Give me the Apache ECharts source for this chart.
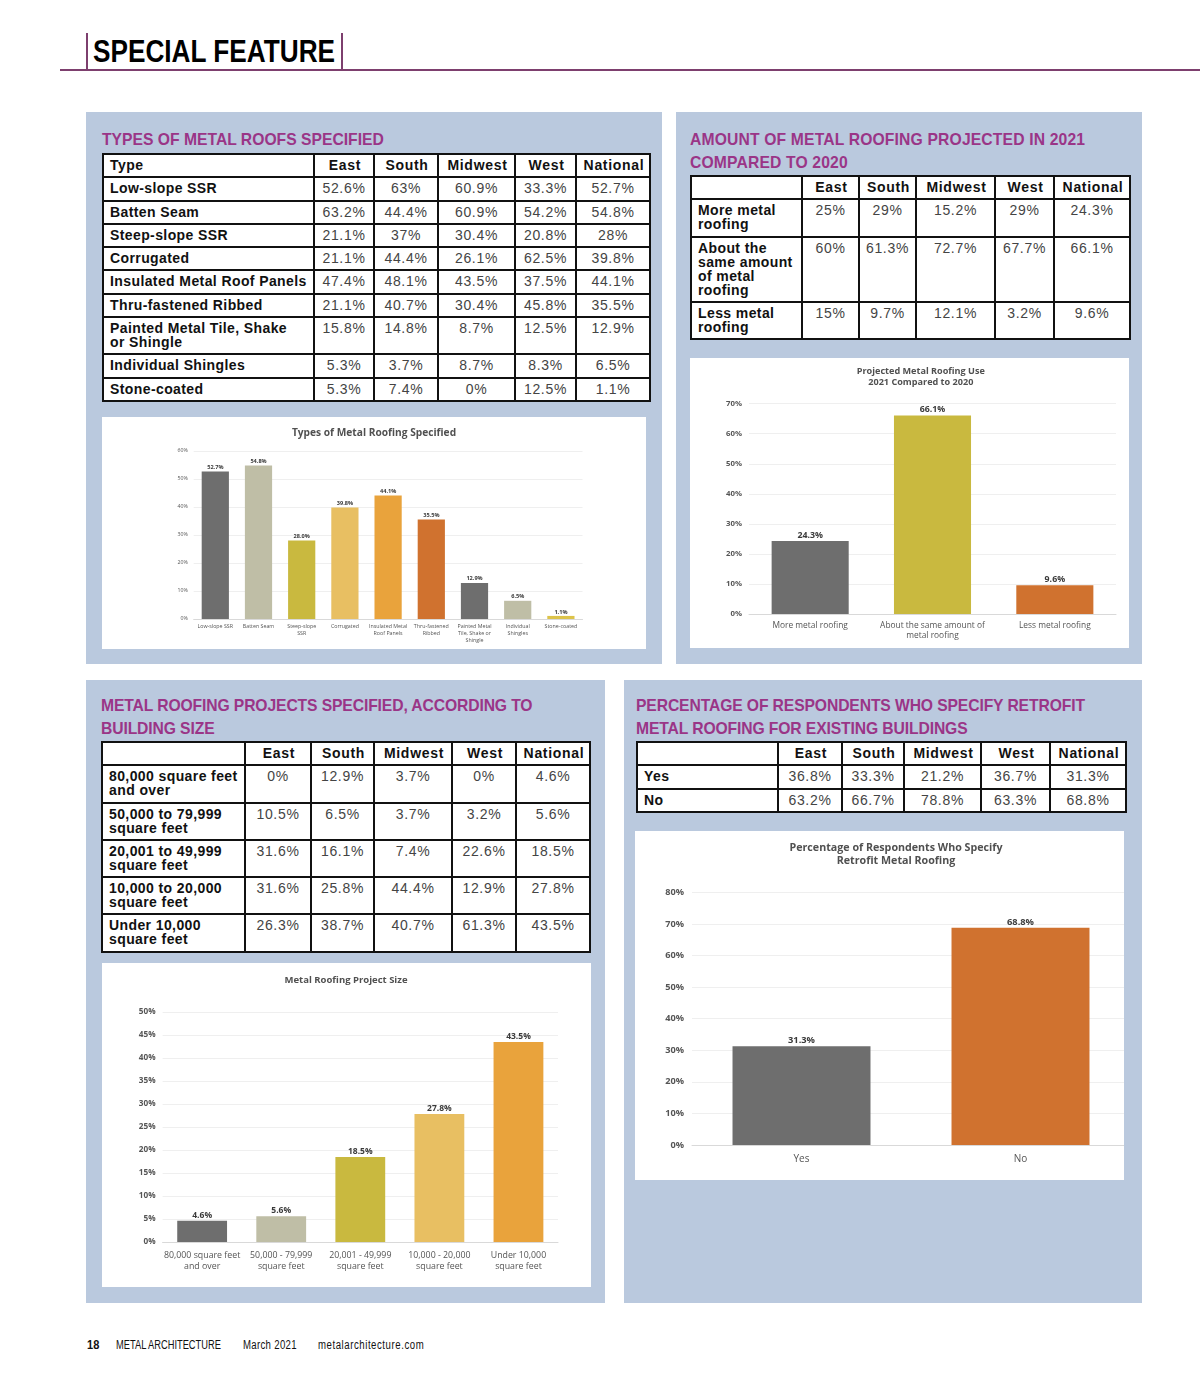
<!DOCTYPE html>
<html>
<head>
<meta charset="utf-8">
<script src="https://cdn.jsdelivr.net/npm/echarts@6/dist/echarts.min.js"></script>
<style>
  html, body { margin:0; padding:0; }
  body { width:1200px; height:1388px; position:relative; background:#fff; overflow:hidden;
         font-family:"Liberation Sans", Arial, Helvetica, sans-serif; }
  .abs { position:absolute; }
  .panel { position:absolute; background:#bac9de; }
  .ptitle { position:absolute; color:#9a3587; font-weight:bold; font-size:15.7px; line-height:23px;
            letter-spacing:0px; white-space:pre; font-family:"Liberation Sans", Arial, sans-serif; }
  .whitebox { position:absolute; background:#fff; overflow:hidden; }
  table.dt { position:absolute; border-collapse:collapse; table-layout:fixed; background:#fff; }
  table.dt th, table.dt td { border:2px solid #111; padding:3px 4px 4.3px 6px; line-height:14px; font-size:14px;
            vertical-align:top; overflow:visible; white-space:pre; }
  table.dt th { font-weight:bold; letter-spacing:0.7px; text-align:center; color:#111; }
  table.dt th.first { text-align:left; letter-spacing:0.5px; }
  table.dt td.lab { font-weight:bold; letter-spacing:0.4px; text-align:left; color:#111; }
  table.dt td.num { text-align:center; letter-spacing:0.7px; color:#444; padding-left:2px; padding-right:2px; }
  .cond { position:absolute; white-space:pre; transform-origin:0 50%; font-family:"Liberation Sans", Arial, sans-serif; color:#111; }
</style>
</head>
<body>

<!-- header -->
<div class="abs" style="left:60px;top:69px;width:1140px;height:2px;background:#7d3f6e"></div>
<div class="abs" style="left:86px;top:33px;width:2px;height:37px;background:#7d3f6e"></div>
<div class="abs" style="left:341px;top:33px;width:2px;height:37px;background:#7d3f6e"></div>
<div class="cond" style="left:93px;top:33px;font-size:31px;line-height:38px;font-weight:bold;color:#000;transform:scaleX(0.845)">SPECIAL FEATURE</div>

<!-- panels -->
<div class="panel" style="left:86px;top:112px;width:576px;height:552px"></div>
<div class="panel" style="left:676px;top:112px;width:466px;height:552px"></div>
<div class="panel" style="left:86px;top:680px;width:519px;height:623px"></div>
<div class="panel" style="left:624px;top:680px;width:518px;height:623px"></div>

<div class="ptitle" style="left:102px;top:128px">TYPES OF METAL ROOFS SPECIFIED</div>
<div class="ptitle" style="left:690px;top:128px;letter-spacing:0.15px">AMOUNT OF METAL ROOFING PROJECTED IN 2021
COMPARED TO 2020</div>
<div class="ptitle" style="left:101px;top:694px;letter-spacing:-0.12px">METAL ROOFING PROJECTS SPECIFIED, ACCORDING TO
BUILDING SIZE</div>
<div class="ptitle" style="left:636px;top:694px;letter-spacing:-0.12px">PERCENTAGE OF RESPONDENTS WHO SPECIFY RETROFIT
METAL ROOFING FOR EXISTING BUILDINGS</div>

<!-- chart boxes -->
<div class="whitebox" style="left:102px;top:417px;width:544px;height:232px"><div id="c1" style="width:544px;height:232px"></div></div>
<div class="whitebox" style="left:690px;top:358px;width:439px;height:290px"><div id="c2" style="width:439px;height:290px"></div></div>
<div class="whitebox" style="left:102px;top:963px;width:489px;height:324px"><div id="c3" style="width:489px;height:324px"></div></div>
<div class="whitebox" style="left:635px;top:831px;width:489px;height:349px"><div id="c4" style="width:495px;height:349px"></div></div>

<!-- footer -->
<div class="cond" style="left:87px;top:1337px;font-size:13px;line-height:16px;font-weight:bold;transform:scaleX(0.85)">18</div>
<div class="cond" style="left:116px;top:1337px;font-size:12px;line-height:16px;transform:scaleX(0.775)">METAL ARCHITECTURE</div>
<div class="cond" style="left:243px;top:1337px;font-size:12px;line-height:16px;letter-spacing:0.4px;transform:scaleX(0.8)">March 2021</div>
<div class="cond" style="left:318px;top:1337px;font-size:12px;line-height:16px;letter-spacing:0.7px;transform:scaleX(0.8)">metalarchitecture.com</div>

<script>
// ---------------- DATA ----------------
const regions = ['East', 'South', 'Midwest', 'West', 'National'];

// Table 1: Types of metal roofs specified
const roofTypeLabels = ['Low-slope SSR', 'Batten Seam', 'Steep-slope SSR', 'Corrugated',
  'Insulated Metal Roof Panels', 'Thru-fastened Ribbed', 'Painted Metal Tile, Shake\nor Shingle',
  'Individual Shingles', 'Stone-coated'];
const roofTypeEast     = [52.6, 63.2, 21.1, 21.1, 47.4, 21.1, 15.8, 5.3, 5.3];
const roofTypeSouth    = [63, 44.4, 37, 44.4, 48.1, 40.7, 14.8, 3.7, 7.4];
const roofTypeMidwest  = [60.9, 60.9, 30.4, 26.1, 43.5, 30.4, 8.7, 8.7, 0];
const roofTypeWest     = [33.3, 54.2, 20.8, 62.5, 37.5, 45.8, 12.5, 8.3, 12.5];
const roofTypeNational = [52.7, 54.8, 28, 39.8, 44.1, 35.5, 12.9, 6.5, 1.1];
const roofTypeChartCategories = ['Low-slope SSR', 'Batten Seam', 'Steep-slope\nSSR', 'Corrugated',
  'Insulated Metal\nRoof Panels', 'Thru-fastened\nRibbed', 'Painted Metal\nTile, Shake or\nShingle',
  'Individual\nShingles', 'Stone-coated'];

// Table 2: Amount of metal roofing projected in 2021 compared to 2020
const projLabels = ['More metal\nroofing', 'About the\nsame amount\nof metal\nroofing', 'Less metal\nroofing'];
const projEast     = [25, 60, 15];
const projSouth    = [29, 61.3, 9.7];
const projMidwest  = [15.2, 72.7, 12.1];
const projWest     = [29, 67.7, 3.2];
const projNational = [24.3, 66.1, 9.6];
const projChartCategories = ['More metal roofing', 'About the same amount of\nmetal roofing', 'Less metal roofing'];

// Table 3: Projects by building size
const sizeLabels = ['80,000 square feet\nand over', '50,000 to 79,999\nsquare feet', '20,001 to 49,999\nsquare feet',
  '10,000 to 20,000\nsquare feet', 'Under 10,000\nsquare feet'];
const sizeEast     = [0, 10.5, 31.6, 31.6, 26.3];
const sizeSouth    = [12.9, 6.5, 16.1, 25.8, 38.7];
const sizeMidwest  = [3.7, 3.7, 7.4, 44.4, 40.7];
const sizeWest     = [0, 3.2, 22.6, 12.9, 61.3];
const sizeNational = [4.6, 5.6, 18.5, 27.8, 43.5];
const sizeChartCategories = ['80,000 square feet\nand over', '50,000 - 79,999\nsquare feet', '20,001 - 49,999\nsquare feet',
  '10,000 - 20,000\nsquare feet', 'Under 10,000\nsquare feet'];

// Table 4: Retrofit
const retroLabels = ['Yes', 'No'];
const retroEast     = [36.8, 63.2];
const retroSouth    = [33.3, 66.7];
const retroMidwest  = [21.2, 78.8];
const retroWest     = [36.7, 63.3];
const retroNational = [31.3, 68.8];
const retroChartCategories = ['Yes', 'No'];

// Chart titles
const chartTitles = {
  types: 'Types of Metal Roofing Specified',
  proj: 'Projected Metal Roofing Use\n2021 Compared to 2020',
  size: 'Metal Roofing Project Size',
  retro: 'Percentage of Respondents Who Specify\nRetrofit Metal Roofing'
};

// ---------------- STYLE / LAYOUT ----------------
const C_GRAY = '#6e6e6e', C_KHAKI = '#bfbea6', C_OLIVE = '#c9b93f', C_GOLD = '#e8bf62',
      C_ORANGE = '#e9a33c', C_RUST = '#d0722f', C_YELLOW = '#dcc34a';
const typeColors  = [C_GRAY, C_KHAKI, C_OLIVE, C_GOLD, C_ORANGE, C_RUST, C_GRAY, C_KHAKI, C_YELLOW];
const projColors  = [C_GRAY, C_OLIVE, C_RUST];
const sizeColors  = [C_GRAY, C_KHAKI, C_OLIVE, C_GOLD, C_ORANGE];
const retroColors = [C_GRAY, C_RUST];

const tableLayouts = {
  types: { x: 102, y: 153, cols: [211, 60, 64, 77, 61, 74] },
  proj:  { x: 690, y: 175, cols: [111, 57, 57, 79, 59, 76] },
  size:  { x: 101, y: 741, cols: [143, 66, 63, 78, 64, 74] },
  retro: { x: 636, y: 741, cols: [141, 64, 62, 77, 69, 76] }
};

function renderTable(layout, firstHeader, labels, columns) {
  const t = document.createElement('table');
  t.className = 'dt';
  t.style.left = layout.x + 'px';
  t.style.top = layout.y + 'px';
  t.style.width = layout.cols.reduce((a, b) => a + b, 0) + 'px';
  const cg = document.createElement('colgroup');
  layout.cols.forEach(w => { const c = document.createElement('col'); c.style.width = w + 'px'; cg.appendChild(c); });
  t.appendChild(cg);
  const hr = document.createElement('tr');
  const h0 = document.createElement('th'); h0.className = 'first'; h0.textContent = firstHeader; hr.appendChild(h0);
  regions.forEach(r => { const th = document.createElement('th'); th.textContent = r; hr.appendChild(th); });
  t.appendChild(hr);
  labels.forEach((lab, i) => {
    const tr = document.createElement('tr');
    const td = document.createElement('td'); td.className = 'lab'; td.textContent = lab; tr.appendChild(td);
    columns.forEach(col => {
      const c = document.createElement('td'); c.className = 'num'; c.textContent = col[i] + '%'; tr.appendChild(c);
    });
    t.appendChild(tr);
  });
  document.body.appendChild(t);
}

renderTable(tableLayouts.types, 'Type', roofTypeLabels, [roofTypeEast, roofTypeSouth, roofTypeMidwest, roofTypeWest, roofTypeNational]);
renderTable(tableLayouts.proj, '', projLabels, [projEast, projSouth, projMidwest, projWest, projNational]);
renderTable(tableLayouts.size, '', sizeLabels, [sizeEast, sizeSouth, sizeMidwest, sizeWest, sizeNational]);
renderTable(tableLayouts.retro, '', retroLabels, [retroEast, retroSouth, retroMidwest, retroWest, retroNational]);

const FONT = '"Open Sans", Lato, "DejaVu Sans", sans-serif';
const TXT = '#555555';

function barChart(id, cfg) {
  const chart = echarts.init(document.getElementById(id), null, { renderer: 'canvas' });
  chart.setOption({
    animation: false,
    color: cfg.palette,
    textStyle: { fontFamily: FONT },
    title: {
      text: cfg.title, left: cfg.titleX, top: cfg.titleTop, padding: 0,
      textAlign: 'center', textVerticalAlign: 'top',
      textStyle: { fontFamily: FONT, fontSize: cfg.titleSize, lineHeight: cfg.titleLH, fontWeight: 'bold', color: '#505050' }
    },
    grid: Object.assign({ outerBoundsMode: 'none', containLabel: false }, cfg.grid),
    xAxis: {
      type: 'category', data: cfg.categories,
      axisTick: { show: false },
      axisLine: { show: true, lineStyle: { color: '#d9d9d9', width: 1 } },
      axisLabel: { interval: 0, fontFamily: FONT, fontSize: cfg.xSize, lineHeight: cfg.xLH, color: TXT, margin: cfg.xMargin, align: 'center' }
    },
    yAxis: {
      type: 'value', min: 0, max: cfg.max, interval: cfg.interval,
      axisLine: { show: false }, axisTick: { show: false },
      splitLine: { show: true, lineStyle: { color: '#efefef', width: 1 } },
      axisLabel: { formatter: '{value}%', fontFamily: FONT, fontSize: cfg.ySize, color: TXT, margin: cfg.yMargin, fontWeight: cfg.yWeight }
    },
    series: [{
      type: 'bar', data: cfg.values, colorBy: 'data', barWidth: '63%',
      label: {
        show: true, position: 'top', distance: 1, fontFamily: FONT, fontSize: cfg.labelSize,
        fontWeight: 'bold', color: '#3a3a3a',
        formatter: p => p.value.toFixed(1) + '%'
      }
    }]
  });
}

barChart('c1', {
  title: chartTitles.types, titleX: 272, titleTop: 10.5, titleSize: 10.2, titleLH: 12,
  palette: typeColors, categories: roofTypeChartCategories, values: roofTypeNational,
  grid: { left: 91.7, right: 63.5, top: 34, bottom: 30 }, max: 60, interval: 10,
  xSize: 5.3, xLH: 7, xMargin: 4, ySize: 5.2, yMargin: 6, yWeight: 'normal', labelSize: 5.6
});
barChart('c2', {
  title: chartTitles.proj, titleX: 230.8, titleTop: 7.5, titleSize: 9.1, titleLH: 11,
  palette: projColors, categories: projChartCategories, values: projNational,
  grid: { left: 59, right: 13, top: 45.7, bottom: 34 }, max: 70, interval: 10,
  xSize: 8.4, xLH: 10, xMargin: 7, ySize: 7.8, yMargin: 7, yWeight: 'bold', labelSize: 8.8
});
barChart('c3', {
  title: chartTitles.size, titleX: 244, titleTop: 11.2, titleSize: 9.5, titleLH: 12,
  palette: sizeColors, categories: sizeChartCategories, values: sizeNational,
  grid: { left: 60.6, right: 33, top: 49, bottom: 45 }, max: 50, interval: 5,
  xSize: 8.8, xLH: 11, xMargin: 8, ySize: 8.2, yMargin: 7, yWeight: 'bold', labelSize: 8.5
});
barChart('c4', {
  title: chartTitles.retro, titleX: 261, titleTop: 10.3, titleSize: 10.7, titleLH: 13.4,
  palette: retroColors, categories: retroChartCategories, values: retroNational,
  grid: { left: 57, right: 0, top: 61.3, bottom: 35 }, max: 80, interval: 10,
  xSize: 10, xLH: 12, xMargin: 8, ySize: 9.2, yMargin: 8, yWeight: 'bold', labelSize: 9.3
});
</script>
</body>
</html>
